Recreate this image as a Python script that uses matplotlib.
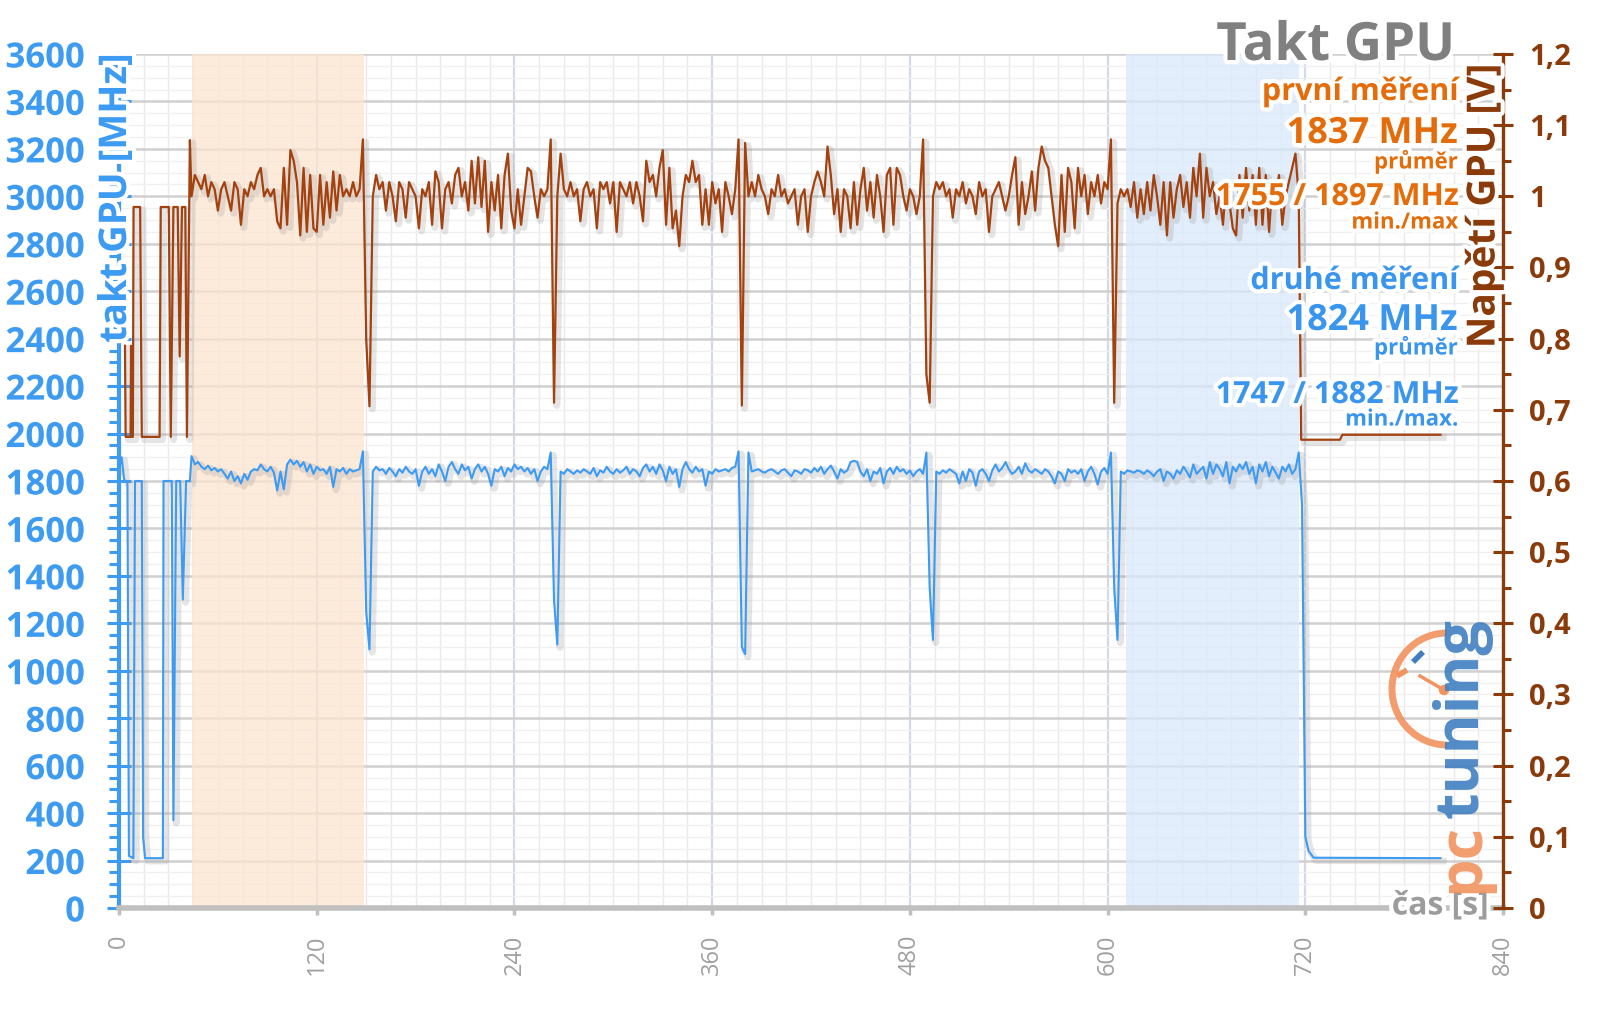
import numpy as np
import matplotlib.pyplot as plt
import matplotlib.patheffects as pe
from matplotlib.patches import Arc, Circle
from matplotlib.ticker import MultipleLocator, FuncFormatter

plt.rcParams['font.family'] = ['Open Sans', 'DejaVu Sans']

# --- data ---
# start-up phase, before the load runs
t_boot_clock = [0, 1.6, 3.0, 3.6, 5.1, 6.0, 8.7, 9.7, 13.8, 14.6, 15.8, 26.6, 27.0,
                32.0, 33.0, 34.7, 37.1, 38.7, 40.7, 43.0]
clock_boot = [1850, 1900, 1810, 1800, 1800, 220, 210, 1800, 1800, 300, 210, 210, 1800,
              1800, 370, 1800, 1800, 1300, 1800, 1800]
t_boot_volt = [3.6, 4.0, 7.0, 7.3, 7.6, 8.4, 8.8, 12.8, 13.8, 24.6, 25.3, 30.2, 31.4,
               33.0, 35.6, 36.8, 38.2, 40.2, 41.2, 43.0]
volt_boot = [0.79, 0.662, 0.662, 0.79, 0.662, 0.662, 0.985, 0.985, 0.662, 0.662, 0.985,
             0.985, 0.662, 0.985, 0.985, 0.775, 0.985, 0.985, 0.662, 1.079]

# load phase, one sample every 2 s from 44 s to 716 s
t_run = np.arange(44, 718, 2)
clock_run = [
    1905, 1870, 1880, 1860, 1850, 1865, 1845, 1855, 1840, 1850,
    1830, 1810, 1840, 1800, 1820, 1790, 1830, 1805, 1840, 1850,
    1845, 1870, 1850, 1840, 1860, 1835, 1760, 1840, 1765, 1870,
    1890, 1870, 1885, 1860, 1880, 1840, 1870, 1830, 1860, 1845,
    1850, 1830, 1860, 1775, 1850, 1840, 1855, 1830, 1850, 1840,
    1845, 1850, 1925, 1250, 1090, 1840, 1860, 1845, 1850, 1830,
    1855, 1840, 1820, 1850, 1835, 1860, 1840, 1830, 1850, 1780,
    1840, 1860, 1830, 1850, 1820, 1870, 1840, 1800, 1860, 1880,
    1850, 1830, 1870, 1845, 1860, 1810, 1850, 1870, 1840, 1860,
    1830, 1780, 1850, 1840, 1860, 1820, 1855, 1840, 1870, 1850,
    1860, 1840, 1855, 1830, 1850, 1800, 1840, 1860, 1850, 1920,
    1300, 1110, 1840, 1830, 1850, 1840, 1830, 1845, 1835, 1850,
    1840, 1830, 1855, 1820, 1845, 1835, 1860, 1840, 1830, 1850,
    1835, 1845, 1860, 1830, 1850, 1840, 1820, 1855, 1870, 1840,
    1860, 1830, 1870, 1845, 1800, 1860, 1830, 1850, 1775, 1850,
    1880, 1850, 1835, 1860, 1840, 1850, 1780, 1840, 1830, 1850,
    1840, 1845, 1850, 1840, 1855, 1860, 1925, 1100, 1070, 1920,
    1840, 1845, 1850, 1840, 1835, 1845, 1850, 1840, 1830, 1845,
    1850, 1835, 1820, 1845, 1840, 1830, 1850, 1845, 1835, 1855,
    1840, 1860, 1830, 1850, 1865, 1840, 1810, 1850, 1835, 1845,
    1880, 1885, 1880, 1840, 1820, 1850, 1800, 1840, 1830, 1855,
    1790, 1840, 1855, 1830, 1860, 1840, 1850, 1830, 1845, 1820,
    1840, 1850, 1830, 1920, 1350, 1130, 1840, 1830, 1845, 1835,
    1850, 1840, 1830, 1790, 1840, 1800, 1850, 1835, 1780, 1840,
    1850, 1830, 1800, 1845, 1870, 1840, 1855, 1880, 1850, 1830,
    1840, 1860, 1830, 1875, 1845, 1835, 1850, 1840, 1830, 1850,
    1840, 1820, 1790, 1840, 1830, 1800, 1850, 1835, 1845, 1830,
    1850, 1800, 1840, 1860, 1830, 1785, 1840, 1855, 1830, 1920,
    1350, 1130, 1840, 1830, 1845, 1840, 1835, 1845, 1840, 1830,
    1845, 1835, 1820, 1840, 1850, 1800, 1840, 1830, 1810, 1845,
    1830, 1860, 1840, 1815, 1870, 1830, 1845, 1860, 1810, 1880,
    1830, 1870, 1850, 1820, 1880, 1790, 1860, 1840, 1870, 1850,
    1880, 1830, 1860, 1790, 1870, 1840, 1880, 1820, 1860, 1835,
    1810, 1860, 1840, 1870, 1830, 1850, 1920,
]
volt_run = [
    1.00, 1.03, 1.02, 1.01, 1.03, 1.00, 1.02, 1.01, 0.98, 1.01,
    1.02, 1.00, 0.98, 1.02, 1.01, 0.96, 1.01, 1.00, 1.02, 1.01,
    1.03, 1.04, 1.00, 1.01, 1.00, 1.01, 0.965, 0.955, 1.04, 0.96,
    1.065, 1.05, 1.02, 0.945, 1.04, 0.95, 1.03, 0.955, 0.95, 1.03,
    0.96, 1.02, 0.97, 1.035, 0.98, 1.03, 1.00, 1.01, 1.00, 1.02,
    1.00, 1.01, 1.08, 0.80, 0.705, 1.00, 1.03, 1.01, 1.02, 0.98,
    1.02, 1.00, 0.965, 1.02, 1.01, 0.97, 1.02, 1.01, 1.00, 0.955,
    1.01, 1.00, 1.02, 0.96, 1.035, 1.02, 0.955, 1.01, 1.02, 0.99,
    1.03, 1.04, 1.00, 1.02, 0.98, 1.05, 0.99, 1.055, 0.985, 1.05,
    0.95, 1.02, 0.98, 1.03, 0.955, 1.03, 1.06, 0.98, 0.955, 1.01,
    0.96, 1.00, 1.04, 1.035, 1.00, 0.97, 1.01, 1.00, 1.01, 1.08,
    0.71, 1.00, 1.06, 1.01, 1.00, 1.02, 1.00, 1.01, 0.965, 1.01,
    1.02, 1.00, 1.01, 0.955, 1.02, 1.01, 1.02, 0.99, 1.02, 0.95,
    1.02, 1.01, 1.00, 1.02, 0.99, 1.02, 1.00, 0.965, 1.05, 1.02,
    1.03, 1.00, 1.04, 1.065, 0.96, 1.04, 0.955, 0.98, 0.93, 1.00,
    1.03, 1.02, 1.05, 1.02, 1.03, 0.96, 1.01, 0.96, 1.02, 0.99,
    1.01, 0.95, 1.02, 1.00, 0.975, 1.01, 1.08, 0.706, 1.075, 1.00,
    1.02, 1.00, 1.03, 1.01, 1.00, 0.975, 1.01, 1.00, 1.03, 1.00,
    1.01, 0.99, 1.00, 1.01, 0.96, 1.00, 1.01, 0.95, 1.00, 1.02,
    1.035, 1.02, 1.00, 1.07, 1.03, 0.975, 1.01, 0.95, 1.01, 1.00,
    0.955, 1.02, 0.96, 1.01, 1.04, 0.98, 1.02, 0.97, 1.03, 1.00,
    0.95, 1.03, 1.04, 0.96, 1.04, 1.03, 1.00, 0.98, 1.01, 1.00,
    0.975, 1.00, 1.08, 0.75, 0.71, 1.00, 1.02, 1.01, 1.02, 1.00,
    1.01, 0.97, 1.01, 1.00, 1.02, 0.99, 1.01, 1.00, 0.975, 1.02,
    1.00, 1.01, 0.95, 1.00, 1.01, 1.02, 1.00, 0.98, 1.00, 1.03,
    1.055, 0.96, 1.02, 0.975, 1.00, 1.035, 0.98, 1.04, 1.07, 1.05,
    1.04, 1.00, 0.96, 0.93, 1.03, 0.95, 1.04, 1.02, 0.955, 1.04,
    1.00, 1.03, 0.975, 1.02, 1.00, 1.03, 0.99, 1.02, 1.01, 1.08,
    0.71, 0.99, 1.01, 1.00, 1.01, 0.985, 1.02, 0.97, 1.01, 0.975,
    1.02, 0.98, 1.03, 1.00, 0.96, 1.02, 0.945, 1.02, 0.97, 1.01,
    1.03, 0.985, 1.02, 0.97, 1.04, 1.00, 1.06, 0.97, 1.04, 1.00,
    1.02, 0.975, 1.00, 0.96, 1.02, 0.99, 0.955, 0.945, 1.03, 0.97,
    1.04, 0.98, 1.03, 0.96, 1.04, 0.96, 1.03, 0.95, 1.02, 1.00,
    1.03, 0.96, 1.00, 1.02, 1.04, 1.06, 1.00,
]

# idle after the load
t_tail_clock = [718, 720, 722, 725, 802]
clock_tail = [1700, 300, 240, 212, 210]
t_tail_volt = [717.5, 741, 742.5, 802]
volt_tail = [0.658, 0.658, 0.665, 0.665]

# highlighted windows (s)
span_first = (44, 148.5)
span_second = (611, 716)

# --- colours ---
BLUE = '#3D9BF2'
BLUE_TXT = '#3A95EE'
BROWN = '#A3410F'
BROWN_AX = '#8B3A0A'
ORANGE = '#E46C0A'
GREY = '#808080'

t_clock = np.concatenate([t_boot_clock, t_run, t_tail_clock])
clock = np.concatenate([clock_boot, clock_run, clock_tail])
t_volt = np.concatenate([t_boot_volt, t_run, t_tail_volt])
volt = np.concatenate([volt_boot, volt_run, volt_tail])

fig = plt.figure(figsize=(16, 10.09), dpi=100)
ax = fig.add_axes([0.0744, 0.1001, 0.8650, 0.8464])
ax2 = ax.twinx()

ax.set_xlim(0, 840)
ax.set_ylim(0, 3600)
ax2.set_ylim(0, 1.2)

# shaded windows
ax.axvspan(*span_first, color='#FCE4D0', alpha=0.75, lw=0, zorder=1)
ax.axvspan(*span_second, color='#D9E9FA', alpha=0.75, lw=0, zorder=1)

# grid
ax.set_axisbelow(True)
ax.xaxis.set_major_locator(MultipleLocator(120))
ax.xaxis.set_minor_locator(MultipleLocator(15))
ax.yaxis.set_major_locator(MultipleLocator(200))
ax.yaxis.set_minor_locator(MultipleLocator(50))
ax.grid(which='major', axis='y', color='#D0D0D0', lw=1.8)
ax.grid(which='minor', axis='y', color='#F0F0F0', lw=1.0)
ax.grid(which='major', axis='x', color='#D3DAE6', lw=1.6)
ax.grid(which='minor', axis='x', color='#EAEAEA', lw=1.0)

shadow = [pe.SimpleLineShadow(offset=(2, -2), shadow_color='#9A9A9A', alpha=0.25, linewidth=5),
          pe.Normal()]
ax.plot(t_clock, clock, color=BLUE, lw=1.5, zorder=3, path_effects=shadow)
ax2.plot(t_volt, volt, color=BROWN, lw=1.6, zorder=3, path_effects=shadow)

# spines and ticks
for s in ['top', 'right']:
    ax.spines[s].set_visible(False)
for s in ['top', 'left', 'bottom']:
    ax2.spines[s].set_visible(False)
ax.spines['left'].set_color(BLUE)
ax.spines['left'].set_linewidth(3)
ax.spines['bottom'].set_color('#C0C0C0')
ax.spines['bottom'].set_linewidth(4)
ax2.spines['right'].set_color(BROWN_AX)
ax2.spines['right'].set_linewidth(2.4)

ax.tick_params(axis='y', which='major', direction='inout', length=17, width=2.2,
               color=BLUE, labelcolor=BLUE, labelsize=25, pad=16)
ax.tick_params(axis='y', which='minor', direction='out', length=7, width=2.2, color=BLUE)
for lab in ax.get_yticklabels():
    lab.set_fontweight('bold')
    lab.set_path_effects([pe.withStroke(linewidth=4, foreground='white')])

ax.tick_params(axis='x', which='major', direction='out', length=5, width=2.5,
               color='#C0C0C0', labelcolor='#A0A0A0', labelsize=17, pad=14)
ax.tick_params(axis='x', which='minor', length=0)
ax.set_xticks(range(0, 841, 120))
ax.set_xticklabels([str(v) for v in range(0, 841, 120)], rotation=90)

ax2.yaxis.set_major_locator(MultipleLocator(0.1))
ax2.yaxis.set_minor_locator(MultipleLocator(0.05))
ax2.yaxis.set_major_formatter(FuncFormatter(lambda v, p: ('%g' % round(v, 1)).replace('.', ',')))
ax2.tick_params(axis='y', which='major', direction='inout', length=14, width=2.2,
                color=BROWN_AX, labelcolor=BROWN_AX, labelsize=21, pad=12)
ax2.tick_params(axis='y', which='minor', direction='out', length=6, width=2.2, color=BROWN_AX)
for lab in ax2.get_yticklabels():
    lab.set_fontweight('bold')

# --- overlay in pixel coordinates for labels, notes and logo ---
ov = fig.add_axes([0, 0, 1, 1], zorder=10)
ov.set_xlim(0, 1600)
ov.set_ylim(1009, 0)
ov.axis('off')
ov.patch.set_alpha(0)

glow = [pe.withStroke(linewidth=6, foreground='white')]

ov.text(116, 198, 'takt GPU [MHz]', rotation=90, ha='center', va='center',
        fontsize=27.5, fontweight='bold', color=BLUE, path_effects=glow)
ov.text(1484, 206, 'Napětí GPU [V]', rotation=90, ha='center', va='center',
        fontsize=28, fontweight='bold', color=BROWN_AX, path_effects=glow)

ov.text(1455, 46, 'Takt GPU', ha='right', va='center', fontsize=38,
        fontweight='bold', color=GREY, path_effects=glow)

notes = [
    ('první měření', 92, 22, ORANGE),
    ('1837 MHz', 134, 26, ORANGE),
    ('průměr', 162, 16, ORANGE),
    ('1755 / 1897 MHz', 197, 22, ORANGE),
    ('min./max', 223, 16, ORANGE),
    ('druhé měření', 281, 22, BLUE_TXT),
    ('1824 MHz', 321, 26, BLUE_TXT),
    ('průměr', 348, 16, BLUE_TXT),
    ('1747 / 1882 MHz', 395, 22, BLUE_TXT),
    ('min./max.', 420, 16, BLUE_TXT),
]
for txt, y, size, col in notes:
    ov.text(1458, y, txt, ha='right', va='center', fontsize=size,
            fontweight='bold', color=col, path_effects=glow)

ov.text(1489, 906, 'čas [s]', ha='right', va='center', fontsize=23,
        fontweight='bold', color='#9C9C9C', path_effects=glow)

# pctuning logo
ov.text(1478, 893, 'pc', rotation=90, rotation_mode='anchor', ha='left', va='baseline',
        fontsize=44, fontweight='bold', color='#F2935F', alpha=0.9)
ov.text(1478, 818, 'tuning', rotation=90, rotation_mode='anchor', ha='left', va='baseline',
        fontsize=44, fontweight='bold', color='#3F7FC0', alpha=0.9)
ov.add_patch(Arc((1447, 689), 110, 112, theta1=90, theta2=270, color='#F2935F', lw=5, alpha=0.9))
ov.plot([1413, 1423], [662, 652], color='#3F7FC0', lw=4, solid_capstyle='butt')
ov.plot([1397, 1407], [676, 670], color='#F2935F', lw=4, solid_capstyle='butt')
ov.plot([1420, 1444], [676, 690], color='#F2935F', lw=2.5)
ov.add_patch(Circle((1444, 690), 4.5, color='#F2935F'))

fig.savefig('out.png', dpi=100)
